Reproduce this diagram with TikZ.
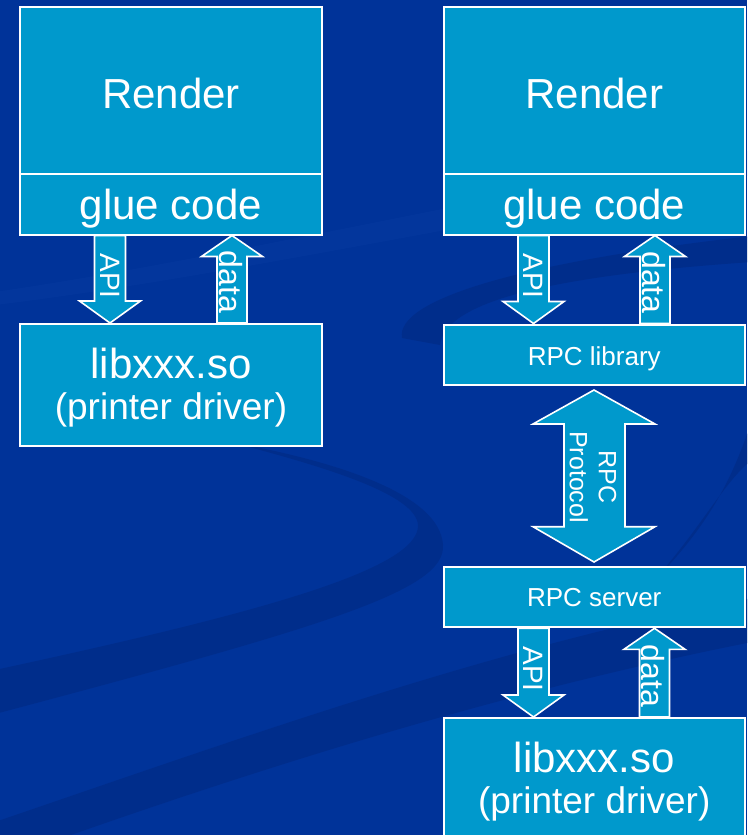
\documentclass[tikz,border=0pt]{standalone}
\usepackage{fontspec}
\setmainfont{Liberation Sans}
\usetikzlibrary{calc}

\definecolor{slidebg}{HTML}{003399}
\definecolor{swirl}{HTML}{002D8B}
\definecolor{swirllight}{HTML}{0A3EA3}
\definecolor{boxblue}{HTML}{0099CC}

\tikzset{
  layer/.style={draw=white, line width=2pt, fill=boxblue, inner sep=0pt},
  blockarrow/.style={draw=white, line width=1.6pt, fill=boxblue, line join=miter},
  txt/.style={text=white, inner sep=0pt, anchor=base},
  bigtxt/.style={txt, font=\fontsize{42}{50}\selectfont},
  midtxt/.style={txt, font=\fontsize{37}{44}\selectfont},
  smalltxt/.style={txt, font=\fontsize{26}{31}\selectfont},
  vlabel/.style={text=white, inner sep=0pt, rotate=-90},
  apitxt/.style={vlabel, font=\fontsize{28}{33}\selectfont},
  datatxt/.style={vlabel, font=\fontsize{32}{38}\selectfont},
}

% block arrow pointing down from the bottom of #2 to the top of #3, shaft centred at x=#1
\newcommand\downblock[3]{%
  \draw[blockarrow] let \p1=(#2.south), \p2=(#3.north) in
    ({#1pt-15.5pt},\y1) -- ({#1pt+15.5pt},\y1) -- ({#1pt+15.5pt},\y2+22pt)
    -- ({#1pt+30.5pt},\y2+22pt) -- (#1pt,\y2) -- ({#1pt-30.5pt},\y2+22pt)
    -- ({#1pt-15.5pt},\y2+22pt) -- cycle;}

% block arrow pointing up from the top of #3 to the bottom of #2, shaft centred at x=#1
\newcommand\upblock[3]{%
  \draw[blockarrow] let \p1=(#2.south), \p2=(#3.north) in
    ({#1pt-15pt},\y2) -- ({#1pt-15pt},\y1-21pt) -- ({#1pt-30.5pt},\y1-21pt)
    -- (#1pt,\y1) -- ({#1pt+30.5pt},\y1-21pt) -- ({#1pt+15pt},\y1-21pt)
    -- ({#1pt+15pt},\y2) -- cycle;}

\begin{document}
\begin{tikzpicture}[x=1pt, y=-1pt]
  \useasboundingbox (0,0) rectangle (747,835);
  \fill[slidebg] (0,0) rectangle (747,835);

  % background swooshes
  \begin{scope}
    \clip (0,0) rectangle (747,835);
    \fill[swirllight, opacity=0.35] (-5,292) .. controls (200,262) and (420,210) .. (752,150)
      -- (752,175) .. controls (420,232) and (200,280) .. (-5,305) -- cycle;
    \fill[swirl] (-5,670) .. controls (250,615) and (420,570) .. (418,525)
      .. controls (416,495) and (330,468) .. (230,442)
      .. controls (340,462) and (440,495) .. (443,545)
      .. controls (446,590) and (330,625) .. (-5,714) -- cycle;
    \fill[swirl] (-5,822) .. controls (250,735) and (500,645) .. (752,598)
      -- (752,642) .. controls (500,692) and (250,770) .. (-5,862) -- cycle;
    \fill[swirl] (402,338) .. controls (395,300) and (520,262) .. (752,236)
      -- (752,262) .. controls (560,275) and (445,300) .. (440,345) -- cycle;
    \fill[swirl] (752,420) .. controls (735,470) and (715,520) .. (650,585)
      .. controls (700,530) and (725,480) .. (752,460) -- cycle;
  \end{scope}

  % left stack: direct linking
  \node[layer, minimum width=302pt, minimum height=167pt] (renderL) at (171,90.5) {};
  \node[layer, minimum width=302pt, minimum height=60.5pt] (glueL) at (171,204.25) {};
  \node[layer, minimum width=302pt, minimum height=121.5pt] (libL) at (171,384.75) {};

  % right stack: through RPC
  \node[layer, minimum width=301.5pt, minimum height=167pt] (renderR) at (594.25,90.5) {};
  \node[layer, minimum width=301.5pt, minimum height=60.5pt] (glueR) at (594.25,204.25) {};
  \node[layer, minimum width=301.5pt, minimum height=60.5pt] (rpclib) at (594.25,354.75) {};
  \node[layer, minimum width=301.5pt, minimum height=60.6pt] (rpcsrv) at (594.25,597) {};
  \node[layer, minimum width=301.5pt, minimum height=152pt] (libR) at (594.25,794) {};

  % box texts
  \node[bigtxt] (renderLt) at (171,108) {Render};
  \node[bigtxt] (glueLt) at (171,219.5) {glue code};
  \node[bigtxt] (libLt) at (171,378) {libxxx.so};
  \node[midtxt] (drvLt) at (171,419) {(printer driver)};

  \node[bigtxt] (renderRt) at (594.25,108) {Render};
  \node[bigtxt] (glueRt) at (594.25,219.5) {glue code};
  \node[smalltxt] (rpclibt) at (594.25,365) {RPC library};
  \node[smalltxt] (rpcsrvt) at (594.25,606.7) {RPC server};
  \node[bigtxt] (libRt) at (594.25,772) {libxxx.so};
  \node[midtxt] (drvRt) at (594.25,813) {(printer driver)};

  % call and data arrows
  \downblock{110}{glueL}{libL}
  \upblock{232}{glueL}{libL}
  \downblock{533.5}{glueR}{rpclib}
  \upblock{655}{glueR}{rpclib}
  \downblock{533.5}{rpcsrv}{libR}
  \upblock{654.5}{rpcsrv}{libR}

  % protocol double arrow
  \draw[blockarrow] let \p1=(rpclib.south), \p2=(rpcsrv.north) in
    (594pt,\y1-4pt) -- (655pt,\y1-38pt) -- (625pt,\y1-38pt) -- (625pt,\y2+39pt)
    -- (655pt,\y2+39pt) -- (594pt,\y2+3.7pt) -- (533pt,\y2+39pt) -- (564pt,\y2+39pt)
    -- (564pt,\y1-38pt) -- (533pt,\y1-38pt) -- cycle;

  % arrow labels
  \node[apitxt] (apiL) at (110,276) {API};
  \node[datatxt] (dataL) at (231,282) {data};
  \node[apitxt] (apiR) at (533.5,276) {API};
  \node[datatxt] (dataR) at (653.5,282.5) {data};
  \node[apitxt] (apiS) at (533.5,669) {API};
  \node[datatxt] (dataS) at (653,676) {data};
  \node[vlabel, align=center, font=\fontsize{25}{29}\selectfont] (proto) at (593,477) {RPC\\Protocol};
\end{tikzpicture}
\end{document}
